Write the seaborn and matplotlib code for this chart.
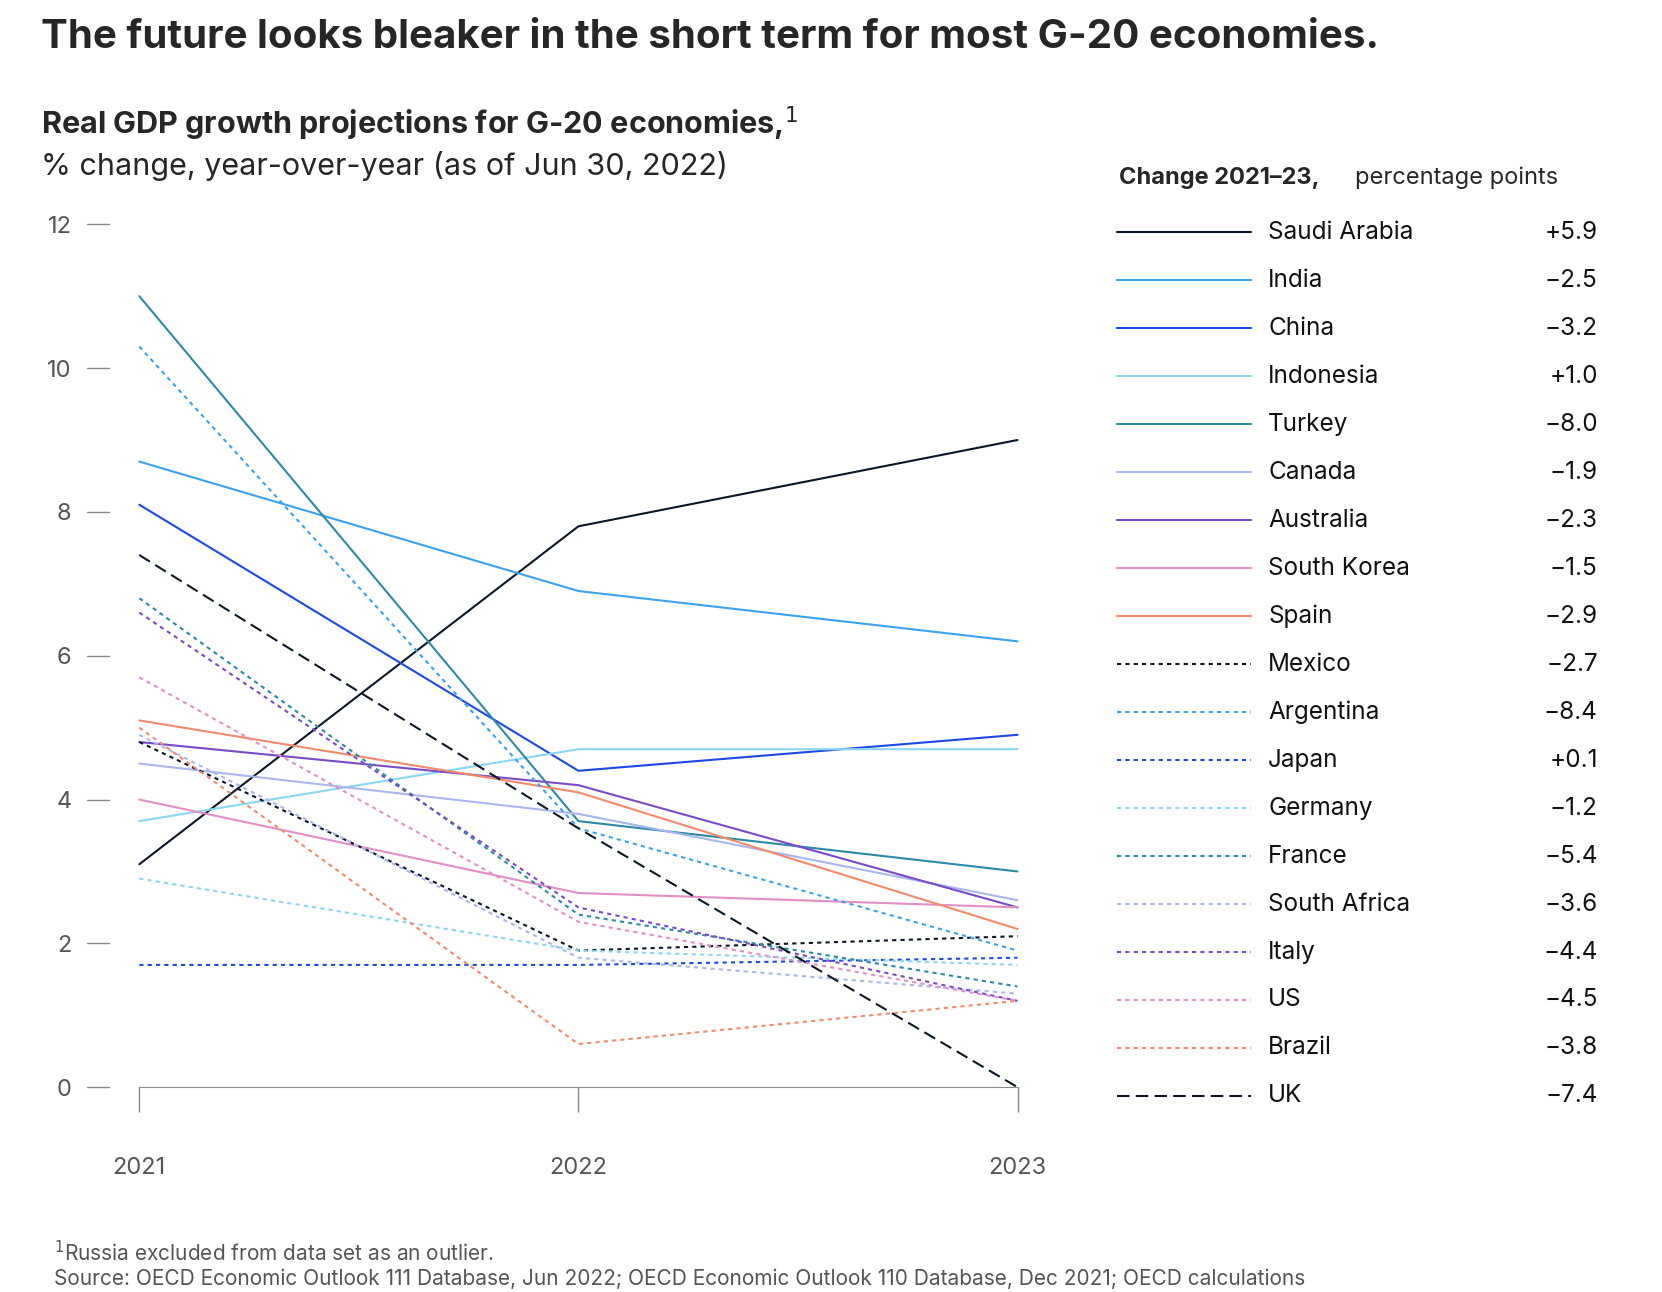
import seaborn as sns
import matplotlib.pyplot as plt
import pandas as pd
from matplotlib.lines import Line2D

years = [2021, 2022, 2023]
countries = ["Saudi Arabia", "India", "China", "Indonesia", "Turkey", "Canada", "Australia",
             "South Korea", "Spain", "Mexico", "Argentina", "Japan", "Germany", "France",
             "South Africa", "Italy", "US", "Brazil", "UK"]
values = [
    [3.1, 7.8, 9.0], [8.7, 6.9, 6.2], [8.1, 4.4, 4.9], [3.7, 4.7, 4.7], [11.0, 3.7, 3.0],
    [4.5, 3.8, 2.6], [4.8, 4.2, 2.5], [4.0, 2.7, 2.5], [5.1, 4.1, 2.2], [4.8, 1.9, 2.1],
    [10.3, 3.6, 1.9], [1.7, 1.7, 1.8], [2.9, 1.9, 1.7], [6.8, 2.4, 1.4], [4.9, 1.8, 1.3],
    [6.6, 2.5, 1.2], [5.7, 2.3, 1.2], [5.0, 0.6, 1.2], [7.4, 3.6, 0.0],
]
changes = ["+5.9", "\u22122.5", "\u22123.2", "+1.0", "\u22128.0", "\u22121.9", "\u22122.3", "\u22121.5",
           "\u22122.9", "\u22122.7", "\u22128.4", "+0.1", "\u22121.2", "\u22125.4", "\u22123.6",
           "\u22124.4", "\u22124.5", "\u22123.8", "\u22127.4"]
colors = ["#0b1726", "#3aa2ef", "#1c49e3", "#8bd6f3", "#2b8ba6", "#a9b7ee", "#7a4bc6",
          "#e38fc6", "#f38a6b", "#0b1726", "#3aa2ef", "#1c49e3", "#8bd6f3", "#2b8ba6",
          "#a9b7ee", "#7a4bc6", "#e38fc6", "#f38a6b", "#0b1726"]
styles = ["-"] * 9 + [(0, (2, 2))] * 9 + [(0, (6, 3))]

rows = []
for c, v in zip(countries, values):
    for y, val in zip(years, v):
        rows.append({"country": c, "year": y, "gdp": val})
df = pd.DataFrame(rows)

sns.set_style("white")
plt.rcParams['font.family'] = ['Inter', 'DejaVu Sans']

fig = plt.figure(figsize=(16.62, 12.92), dpi=100)
W, H = 1550, 1205
ax = fig.add_axes([116 / W, 1 - 1077 / H, (960 - 116) / W, 900 / H])

for c, col, ls in zip(countries, colors, styles):
    sub = df[df.country == c]
    sns.lineplot(data=sub, x="year", y="gdp", ax=ax, color=col, linestyle=ls, linewidth=1.5)

ax.set_xlim(2020.966, 2023.027)
ax.set_ylim(-0.94, 12.48)
ax.set_xlabel("")
ax.set_ylabel("")
ax.set_yticks(range(0, 13, 2))
ax.set_xticks(years)
ax.set_xticklabels([str(y) for y in years])
for s in ["top", "right", "left"]:
    ax.spines[s].set_visible(False)
ax.spines["bottom"].set_position(("data", 0))
ax.spines["bottom"].set_bounds(2021, 2023)
ax.spines["bottom"].set_color("#888888")
ax.tick_params(axis="x", bottom=True, direction="out", length=18, width=1, color="#888888",
               pad=32, labelsize=17, labelcolor="#555555")
ax.tick_params(axis="y", left=False, length=0, pad=38, labelsize=17, labelcolor="#555555")
for t in range(0, 13, 2):
    ax.plot([2020.88, 2020.93], [t, t], color="#888888", lw=1, clip_on=False)

# legend
lg = fig.add_axes([1028 / W, 1 - 1040 / H, 462 / W, 850 / H])
lg.set_xlim(0, 1)
lg.set_ylim(len(countries) - 0.6, -0.6)
lg.axis("off")
for i, (c, col, ls, ch) in enumerate(zip(countries, colors, styles, changes)):
    lg.add_line(Line2D([0.03, 0.3], [i, i], color=col, linestyle=ls, linewidth=1.5))
    lg.text(0.335, i, c, va="center", fontsize=17.5, color="#111111")
    lg.text(1.0, i, ch, va="center", ha="right", fontsize=17.5, color="#111111")

fig.text(38 / W, 1 - 35 / H, "The future looks bleaker in the short term for most G-20 economies.",
         fontsize=29, fontweight="bold", va="center")
fig.text(38 / W, 1 - 115 / H, "Real GDP growth projections for G-20 economies,$^1$",
         fontsize=22, fontweight="bold", va="center")
fig.text(38 / W, 1 - 155 / H, "% change, year-over-year (as of Jun 30, 2022)", fontsize=22, va="center")
fig.text(1044 / W, 1 - 166 / H, "Change 2021\u201323,", fontsize=17, fontweight="bold", va="center")
fig.text(1264 / W, 1 - 166 / H, "percentage points", fontsize=17, va="center")
fig.text(50 / W, 1 - 1168 / H, "$^1$Russia excluded from data set as an outlier.", fontsize=15, color="#555555", va="center")
fig.text(50 / W, 1 - 1193 / H, "Source: OECD Economic Outlook 111 Database, Jun 2022; OECD Economic Outlook 110 Database, Dec 2021; OECD calculations",
         fontsize=15, color="#555555", va="center")

fig.savefig("out.png", dpi=100)
